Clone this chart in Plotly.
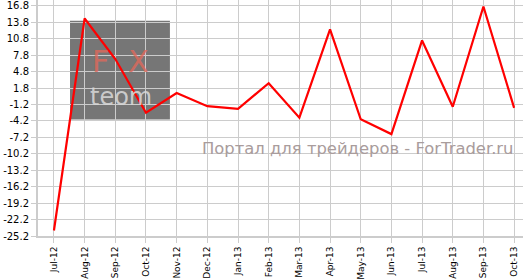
import plotly.graph_objects as go

months = ["Jul-12", "Aug-12", "Sep-12", "Oct-12", "Nov-12", "Dec-12", "Jan-13", "Feb-13",
          "Mar-13", "Apr-13", "May-13", "Jun-13", "Jul-13", "Aug-13", "Sep-13", "Oct-13"]
values = [-24.2, 14.5, 7.1, -2.7, 0.9, -1.5, -2.0, 2.7,
          -3.6, 12.5, -3.9, -6.6, 10.5, -1.6, 16.7, -1.8]
y_ticks = [-25.2 + 3 * i for i in range(15)]
y_labels = ["%.1f" % v for v in y_ticks]
watermark = "Портал для трейдеров - ForTrader.ru"

fig = go.Figure()
fig.add_trace(go.Scatter(x=months, y=values, mode="lines",
                         line=dict(color="#ff0000", width=2.2), showlegend=False,
                         hoverinfo="skip"))

# logo block (background watermark)
fig.add_shape(type="rect", xref="paper", yref="paper", x0=0.066, x1=0.272, y0=0.494, y1=0.912,
              fillcolor="#767676", line=dict(width=0), layer="below")
fig.add_annotation(text="F  X", xref="paper", yref="paper", x=0.171, y=0.741,
                   xanchor="center", yanchor="middle", showarrow=False,
                   font=dict(family="DejaVu Sans", size=30, color="rgba(225,105,90,0.8)"))
fig.add_annotation(text="teom", xref="paper", yref="paper", x=0.171, y=0.59,
                   xanchor="center", yanchor="middle", showarrow=False,
                   font=dict(family="DejaVu Sans", size=24, color="rgba(215,215,215,0.9)"))
fig.add_annotation(text=watermark, xref="paper", yref="paper", x=0.9856, y=0.372,
                   xanchor="right", yanchor="middle", showarrow=False,
                   font=dict(family="DejaVu Sans", size=16.4, color="#a99c9c"))

fig.update_xaxes(type="category", range=[-0.52, 15.29], showgrid=True, gridcolor="#cccccc",
                 gridwidth=1, showline=True, linecolor="#cccccc", linewidth=2,
                 ticks="outside", ticklen=5, tickcolor="#cccccc", tickangle=-90,
                 tickfont=dict(family="DejaVu Sans", size=9, color="#000000"), zeroline=False)
fig.update_yaxes(range=[-25.2, 17.88], tickvals=y_ticks, ticktext=y_labels, showgrid=True,
                 gridcolor="#cccccc", gridwidth=1, showline=True, linecolor="#cccccc",
                 linewidth=2, ticks="outside", ticklen=5, tickcolor="#cccccc",
                 tickfont=dict(family="DejaVu Sans", size=10, color="#000000"), zeroline=False)
fig.update_layout(width=523, height=280, margin=dict(l=38, r=0, t=0, b=41),
                  plot_bgcolor="#ffffff", paper_bgcolor="#ffffff")
fig.write_html("out.html")
